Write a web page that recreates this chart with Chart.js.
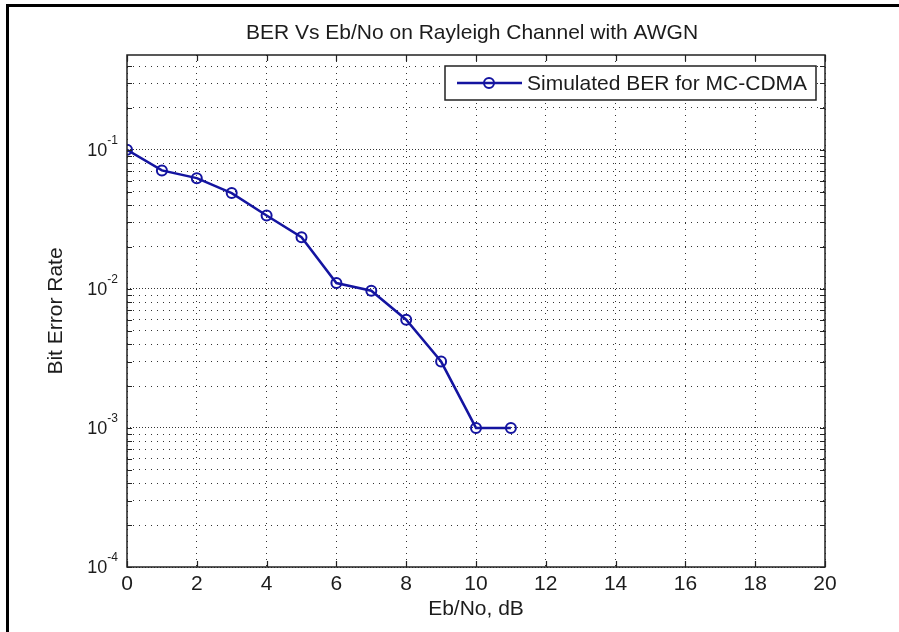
<!DOCTYPE html>
<html>
<head>
<meta charset="utf-8">
<script src="https://cdn.jsdelivr.net/npm/chart.js@4/dist/chart.umd.min.js"></script>
<style>
  html, body { margin: 0; padding: 0; background: #fff; }
  #wrap { position: relative; width: 899px; height: 632px; }
</style>
</head>
<body>
<div id="wrap"><canvas id="berChart" width="899" height="632"></canvas></div>
<script>
const ebNo = [0, 1, 2, 3, 4, 5, 6, 7, 8, 9, 10, 11];
const ber = [0.1, 0.071, 0.0625, 0.0488, 0.0337, 0.0235, 0.011, 0.0097, 0.006, 0.003, 0.001, 0.001];

const xTicks = [0, 2, 4, 6, 8, 10, 12, 14, 16, 18, 20];
const yDecades = [1e-4, 1e-3, 1e-2, 1e-1];
const yExponents = ['-4', '-3', '-2', '-1'];
const yMinorSteps = [1, 2, 3, 4, 5, 6, 7, 8, 9];
const yMin = 1e-4, yMax = 0.48;

const titleText = 'BER Vs Eb/No on Rayleigh Channel with AWGN';
const xLabel = 'Eb/No, dB';
const yLabel = 'Bit Error Rate';
const seriesName = 'Simulated BER for MC-CDMA';

const FONT = "'Liberation Sans', Arial, sans-serif";
const INK = '#1c1c1c';
const LINE = '#1414a0';

// grid values for the log axis: every 1..9 step inside each decade
const yGrid = [];
yDecades.forEach(d => yMinorSteps.forEach(m => {
  const v = +(d * m).toPrecision(3);
  if (v <= yMax) yGrid.push(v);
}));
const isDecade = v => Math.abs(Math.log10(v) - Math.round(Math.log10(v))) < 1e-6;

const matlabBits = {
  id: 'matlabBits',
  beforeDraw(chart) {
    const c = chart.ctx;
    c.save();
    c.fillStyle = '#000';
    c.fillRect(6, 4, 893, 3);   // outer figure frame (top + left only visible)
    c.fillRect(6, 4, 3, 628);
    c.restore();
  },
  afterDraw(chart) {
    const c = chart.ctx;
    const a = chart.chartArea;
    const xs = chart.scales.x, ys = chart.scales.y;
    c.save();

    // title, centred over the axes like MATLAB does
    c.fillStyle = INK;
    c.font = '21px ' + FONT;
    c.textAlign = 'center';
    c.textBaseline = 'middle';
    c.fillText(titleText, (a.left + a.right) / 2 - 4, a.top - 22);

    // axes box
    c.strokeStyle = '#222';
    c.lineWidth = 1.5;
    c.strokeRect(a.left, a.top, a.right - a.left, a.bottom - a.top);

    // inward ticks
    c.lineWidth = 1.2;
    c.beginPath();
    xTicks.forEach(v => {
      const px = Math.round(xs.getPixelForValue(v)) + 0.5;
      c.moveTo(px, a.bottom); c.lineTo(px, a.bottom - 6);
      c.moveTo(px, a.top); c.lineTo(px, a.top + 6);
    });
    yGrid.forEach(v => {
      const py = Math.round(ys.getPixelForValue(v)) + 0.5;
      c.moveTo(a.left, py); c.lineTo(a.left + 5, py);
      c.moveTo(a.right, py); c.lineTo(a.right - 5, py);
    });
    c.stroke();

    // y tick labels as 10^n
    c.fillStyle = INK;
    c.textBaseline = 'alphabetic';
    yDecades.forEach((v, i) => {
      const py = ys.getPixelForValue(v);
      c.font = '12px ' + FONT;
      const ew = c.measureText(yExponents[i]).width;
      const right = a.left - 9;
      c.textAlign = 'right';
      c.fillText(yExponents[i], right, py - 6);
      c.font = '18px ' + FONT;
      c.fillText('10', right - ew, py + 6);
    });

    // legend box
    const lr = a.right - 9, lt = a.top + 11, lw = 371, lh = 34;
    const lx = lr - lw, cy = lt + lh / 2;
    c.fillStyle = '#fff';
    c.fillRect(lx, lt, lw, lh);
    c.strokeStyle = '#222';
    c.lineWidth = 1.5;
    c.strokeRect(lx, lt, lw, lh);
    c.strokeStyle = LINE;
    c.lineWidth = 2.5;
    c.beginPath();
    c.moveTo(lx + 12, cy); c.lineTo(lx + 77, cy);
    c.stroke();
    c.lineWidth = 2;
    c.beginPath();
    c.arc(lx + 44, cy, 5, 0, Math.PI * 2);
    c.stroke();
    c.fillStyle = INK;
    c.font = '21px ' + FONT;
    c.textAlign = 'left';
    c.textBaseline = 'middle';
    c.fillText(seriesName, lx + 82, cy + 1);
    c.restore();
  }
};

const ctx = document.getElementById('berChart').getContext('2d');
new Chart(ctx, {
  type: 'line',
  data: {
    datasets: [{
      label: seriesName,
      data: ebNo.map((x, i) => ({ x: x, y: ber[i] })),
      borderColor: LINE,
      borderWidth: 2.5,
      pointRadius: 5,
      pointBorderWidth: 2,
      pointBorderColor: LINE,
      pointBackgroundColor: 'rgba(0,0,0,0)',
      tension: 0,
      fill: false
    }]
  },
  options: {
    responsive: false,
    animation: false,
    devicePixelRatio: 1,
    layout: { padding: { left: 0, top: 55, right: 74, bottom: 0 } },
    plugins: {
      legend: { display: false },
      tooltip: { enabled: false },
      title: { display: false }
    },
    scales: {
      x: {
        type: 'linear',
        min: 0, max: 20,
        afterBuildTicks: s => { s.ticks = xTicks.map(v => ({ value: v })); },
        afterFit: s => { s.height = 65; },
        ticks: { color: INK, font: { family: FONT, size: 21 }, padding: 5, maxRotation: 0 },
        grid: { color: '#333', lineWidth: 1, drawTicks: false },
        border: { display: false, dash: [1, 5] },
        title: {
          display: true, text: xLabel, color: INK,
          font: { family: FONT, size: 21 },
          padding: { top: 0, bottom: 10 }
        }
      },
      y: {
        type: 'logarithmic',
        min: yMin, max: yMax,
        afterBuildTicks: s => { s.ticks = yGrid.map(v => ({ value: v })); },
        afterFit: s => { s.width = 127; },
        ticks: { display: false },
        grid: { color: '#333', lineWidth: 1, drawTicks: false },
        border: { display: false, dash: c => (c.tick && isDecade(c.tick.value)) ? [1, 2] : [1, 5] },
        title: {
          display: true, text: yLabel, color: INK,
          font: { family: FONT, size: 21 },
          padding: { top: 44, bottom: 0 }
        }
      }
    }
  },
  plugins: [matlabBits]
});
</script>
</body>
</html>
